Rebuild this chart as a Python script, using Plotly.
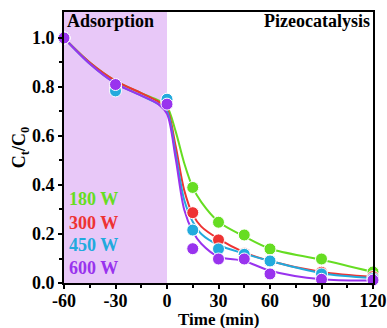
import plotly.graph_objects as go

# measured data points
t_pts = [-60, -30, 0, 15, 30, 45, 60, 90, 120]
w180 = [1.0, 0.80, 0.74, 0.39, 0.248, 0.196, 0.139, 0.098, 0.045]
w300 = [1.0, 0.80, 0.74, 0.287, 0.176, 0.12, 0.09, 0.044, 0.026]
w450 = [1.0, 0.784, 0.75, 0.216, 0.139, 0.117, 0.09, 0.037, 0.018]
w600 = [1.0, 0.81, 0.73, 0.14, 0.098, 0.098, 0.037, 0.015, 0.012]

# fitted curves
t_fit = [-60, -45, -30, -15, -5, 0, 5, 10, 15, 20, 30, 45, 60, 90, 120]
f180 = [1.0, 0.90, 0.825, 0.775, 0.745, 0.72, 0.62, 0.49, 0.39, 0.33, 0.25, 0.19, 0.14, 0.095, 0.045]
f300 = [1.0, 0.90, 0.825, 0.775, 0.74, 0.71, 0.56, 0.38, 0.28, 0.23, 0.18, 0.125, 0.09, 0.045, 0.025]
f450 = [1.0, 0.895, 0.815, 0.765, 0.73, 0.70, 0.53, 0.34, 0.25, 0.20, 0.155, 0.12, 0.09, 0.04, 0.02]
f600 = [1.0, 0.895, 0.815, 0.765, 0.73, 0.69, 0.51, 0.30, 0.21, 0.16, 0.107, 0.09, 0.05, 0.015, 0.01]

labels = ["180 W", "300 W", "450 W", "600 W"]
colors = ["#66dd22", "#ee3333", "#22aadd", "#9933ee"]
pts = [w180, w300, w450, w600]
fits = [f180, f300, f450, f600]

FONT = "Times New Roman, Liberation Serif, serif"

fig = go.Figure()
fig.add_shape(type="rect", xref="x", yref="paper", x0=-60, x1=0, y0=0, y1=1,
              fillcolor="#e8c8f8", line=dict(width=0), layer="below")

for lab, c, f in zip(labels, colors, fits):
    fig.add_trace(go.Scatter(x=t_fit, y=f, mode="lines", line=dict(color=c, width=2, shape="spline", smoothing=0.9),
                             showlegend=False, hoverinfo="skip"))
for lab, c, p in zip(labels, colors, pts):
    fig.add_trace(go.Scatter(x=t_pts, y=p, mode="markers", name=lab,
                             marker=dict(color=c, size=12, line=dict(color="white", width=1)),
                             showlegend=False, cliponaxis=False))

leg_y = [0.343, 0.245, 0.155, 0.061]
for lab, c, yy in zip(labels, colors, leg_y):
    fig.add_annotation(x=-58.5, y=yy, xref="x", yref="y", text="<b>%s</b>" % lab, showarrow=False,
                       xanchor="left", yanchor="middle", font=dict(family=FONT, size=18, color=c))

fig.add_annotation(x=0.004, y=1.01, xref="paper", yref="paper", text="<b>Adsorption</b>", showarrow=False,
                   xanchor="left", yanchor="top", font=dict(family=FONT, size=18, color="black"))
fig.add_annotation(x=0.997, y=1.01, xref="paper", yref="paper", text="<b>Pizeocatalysis</b>", showarrow=False,
                   xanchor="right", yanchor="top", font=dict(family=FONT, size=18, color="black"))
# x-axis title
fig.add_annotation(x=0.5, y=-0.133, xref="paper", yref="paper", text="<b>Time (min)</b>", showarrow=False,
                   xanchor="center", yanchor="middle", borderpad=0,
                   font=dict(family=FONT, size=17, color="black"))

axis_common = dict(showline=True, linecolor="black", linewidth=2, mirror=True, ticks="outside",
                   tickwidth=1.5, ticklen=4, tickcolor="black", showgrid=False, zeroline=False, automargin=False,
                   tickfont=dict(family=FONT, size=18, color="black"))

fig.update_xaxes(range=[-60, 120], tickvals=[-60, -30, 0, 30, 60, 90, 120],
                 ticktext=["<b>-60</b>", "<b>-30</b>", "<b>0</b>", "<b>30</b>", "<b>60</b>", "<b>90</b>", "<b>120</b>"],
                 minor=dict(tickvals=[-45, -15, 15, 45, 75, 105], ticks="outside", ticklen=3, tickcolor="black", tickwidth=1.5),
                 ticklabelstandoff=-4,
                 **axis_common)
fig.update_yaxes(range=[0, 1.106], tickvals=[0, 0.2, 0.4, 0.6, 0.8, 1.0],
                 ticktext=["<b>0.0</b>", "<b>0.2</b>", "<b>0.4</b>", "<b>0.6</b>", "<b>0.8</b>", "<b>1.0</b>"],
                 minor=dict(tickvals=[0.1, 0.3, 0.5, 0.7, 0.9], ticks="outside", ticklen=3, tickcolor="black", tickwidth=1.5),
                 title=dict(text="<b>C<sub>t</sub>/C<sub>0</sub></b>", font=dict(family=FONT, size=18, color="black"), standoff=0),
                 **axis_common)

fig.update_layout(width=387, height=328, margin=dict(l=64, r=14, t=12, b=45),
                  plot_bgcolor="white", paper_bgcolor="white")

fig.write_html("out.html")
